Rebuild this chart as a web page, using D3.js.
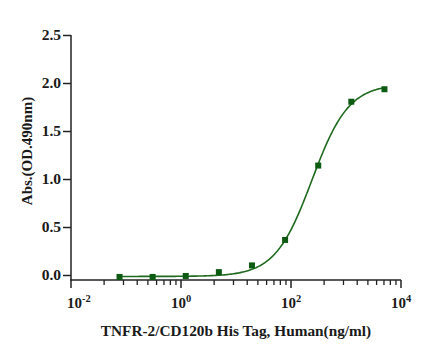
<!DOCTYPE html>
<html>
<head>
<meta charset="utf-8">
<style>
  body { margin: 0; background: #fff; }
  svg { display: block; background: #fff; }
  text { font-family: "Liberation Serif", "Times New Roman", serif; font-weight: bold; fill: #1a1a1a; }
</style>
</head>
<body>
<div id="chart"></div>
<script src="https://d3js.org/d3.v7.min.js"></script>
<script>
// concentration (ng/ml), 4-fold dilutions
var conc = [0.0763, 0.305, 1.22, 4.88, 19.5, 78.1, 312.5, 1250, 5000];
var absorb = [-0.02, -0.02, -0.01, 0.03, 0.10, 0.365, 1.14, 1.805, 1.935];
// 4PL fit parameters
var fitBottom = -0.015, fitTop = 1.99, fitEC50 = 240, fitHill = 1.3;
var yTicks = [0, 0.5, 1.0, 1.5, 2.0, 2.5];
var xMajor = [-2, 0, 2, 4]; // exponents shown on the x axis

var width = 448, height = 357;
var svg = d3.select("#chart").append("svg")
  .attr("width", width)
  .attr("height", height);

// each labelled step (10^2) gets one slot; minor ticks follow log10(k) within the slot
var x = d3.scaleLinear().domain([0, 3]).range([71, 401]);
var y = d3.scaleLinear().domain([0, 2.5]).range([275, 35]);
var xAxisY = 280;

function px(v) { return x((Math.log10(v) + 2) / 2); }

// y axis
var yAxis = d3.axisLeft(y).tickValues(yTicks).tickSize(8).tickPadding(2)
  .tickFormat(d3.format(".1f"));
var gy = svg.append("g").attr("transform", "translate(71,0)").call(yAxis);
gy.select(".domain").attr("d", "M0,35V" + xAxisY);
gy.selectAll("line, path").attr("stroke", "#222").attr("stroke-width", 1.5);
gy.selectAll("text").style("font-size", "15.5px").style("font-family", "Liberation Serif")
  .style("font-weight", "bold").attr("fill", "#1a1a1a");

// x axis line
svg.append("line").attr("x1", 70).attr("x2", 401).attr("y1", xAxisY).attr("y2", xAxisY)
  .attr("stroke", "#222").attr("stroke-width", 1.5);

var minor = [];
xMajor.slice(0, -1).forEach(function(e, i) {
  for (var k = 2; k <= 9; k++) minor.push(x(i + Math.log10(k)));
});
svg.selectAll(".minor").data(minor).enter().append("line")
  .attr("x1", function(d) { return d; }).attr("x2", function(d) { return d; })
  .attr("y1", xAxisY).attr("y2", xAxisY + 5)
  .attr("stroke", "#222").attr("stroke-width", 1.3);
svg.selectAll(".major").data(xMajor).enter().append("line")
  .attr("x1", function(d, i) { return x(i); }).attr("x2", function(d, i) { return x(i); })
  .attr("y1", xAxisY).attr("y2", xAxisY + 8)
  .attr("stroke", "#222").attr("stroke-width", 1.5);

var lab = svg.selectAll(".xlab").data(xMajor).enter().append("text")
  .attr("x", function(d, i) { return x(i); })
  .attr("y", 308)
  .attr("text-anchor", "middle")
  .style("font-size", "15px");
lab.append("tspan").text("10");
lab.append("tspan").attr("dy", -6).style("font-size", "10.5px").text(function(d) { return d; });
lab.each(function() {
  var b = this.getBBox();
  if (b.x < 67) d3.select(this).attr("x", +d3.select(this).attr("x") + (67 - b.x));
});

// axis titles
svg.append("text").attr("x", 236).attr("y", 336).attr("text-anchor", "middle")
  .style("font-size", "15.3px").text("TNFR-2/CD120b His Tag, Human(ng/ml)");
svg.append("text").attr("transform", "translate(32,151) rotate(-90)").attr("text-anchor", "middle")
  .style("font-size", "15px").text("Abs.(OD.490nm)");

// fitted curve
function fit(v) { return fitBottom + (fitTop - fitBottom) / (1 + Math.pow(fitEC50 / v, fitHill)); }
var lo = Math.log10(conc[0]), hi = Math.log10(conc[conc.length - 1]);
var curve = d3.range(0, 201).map(function(i) {
  var v = Math.pow(10, lo + (hi - lo) * i / 200);
  return [px(v), y(fit(v))];
});
svg.append("path").attr("d", d3.line()(curve))
  .attr("fill", "none").attr("stroke", "#1f6a1f").attr("stroke-width", 1.6);

// points
svg.selectAll(".pt").data(conc).enter().append("rect")
  .attr("x", function(d) { return px(d) - 3; })
  .attr("y", function(d, i) { return y(absorb[i]) - 3; })
  .attr("width", 6).attr("height", 6)
  .attr("fill", "#0d5a12");
</script>
</body>
</html>
